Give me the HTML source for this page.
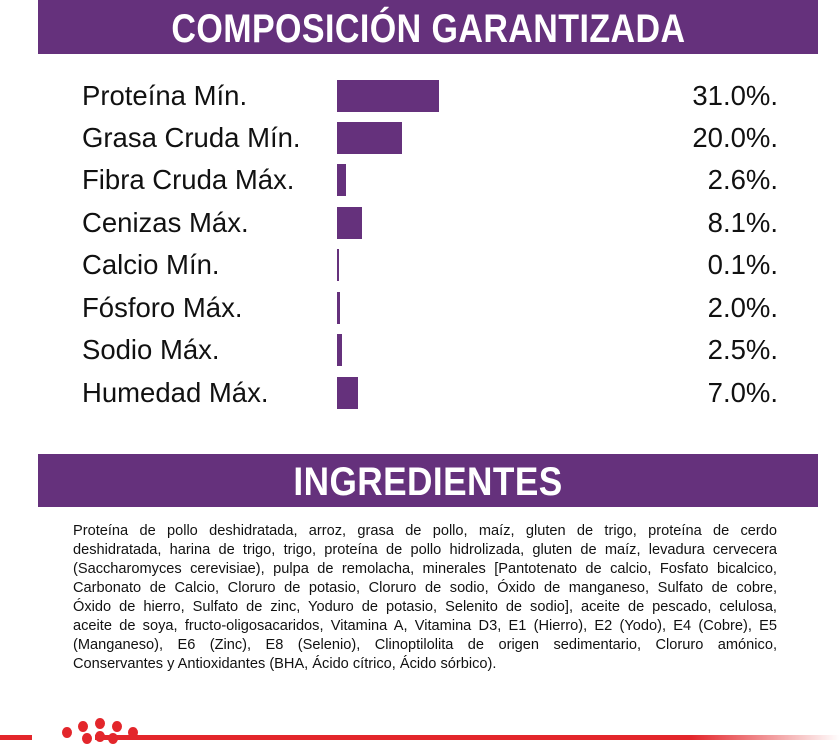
<!DOCTYPE html>
<html><head><meta charset="utf-8"><style>
body{margin:0;width:840px;height:740px;background:#fff;position:relative;overflow:hidden;font-family:"Liberation Sans",sans-serif}
.bar{position:absolute;left:38px;width:780px;background:#65317c;color:#fff;text-align:center;font-family:"Liberation Sans",sans-serif;font-weight:bold;font-size:40px;letter-spacing:0.5px}
.bar span{display:inline-block;transform:scaleX(0.85);transform-origin:center}
.row{position:absolute;left:0;width:840px;height:32px}
.lab{position:absolute;left:82px;font-size:27.5px;line-height:32px;color:#111}
.val{position:absolute;right:62px;font-size:27.5px;line-height:32px;color:#111}
.b{position:absolute;left:337px;top:0;height:32px;background:#65317c}
.ing{position:absolute;left:73px;top:522px;width:704px;font-size:14.6px;line-height:19px;color:#111}
.ing div{text-align:justify;text-align-last:justify;white-space:nowrap;height:19px}
.ing div.l{text-align-last:left}
.dot{position:absolute;width:10px;height:11px;border-radius:50%;background:#e3262b}
</style></head><body>
<div class="bar" style="top:0;height:54px;line-height:58px"><span>COMPOSICIÓN GARANTIZADA</span></div>

<div class="row" style="top:80px"><span class="lab">Proteína Mín.</span><div class="b" style="width:102px"></div><span class="val">31.0%.</span></div>
<div class="row" style="top:122px"><span class="lab">Grasa Cruda Mín.</span><div class="b" style="width:65px"></div><span class="val">20.0%.</span></div>
<div class="row" style="top:164px"><span class="lab">Fibra Cruda Máx.</span><div class="b" style="width:9px"></div><span class="val">2.6%.</span></div>
<div class="row" style="top:207px"><span class="lab">Cenizas Máx.</span><div class="b" style="width:25px"></div><span class="val">8.1%.</span></div>
<div class="row" style="top:249px"><span class="lab">Calcio Mín.</span><div class="b" style="width:2px"></div><span class="val">0.1%.</span></div>
<div class="row" style="top:292px"><span class="lab">Fósforo Máx.</span><div class="b" style="width:3px"></div><span class="val">2.0%.</span></div>
<div class="row" style="top:334px"><span class="lab">Sodio Máx.</span><div class="b" style="width:5px"></div><span class="val">2.5%.</span></div>
<div class="row" style="top:377px"><span class="lab">Humedad Máx.</span><div class="b" style="width:21px"></div><span class="val">7.0%.</span></div>

<div class="bar" style="top:454px;height:53px;line-height:56px"><span style="transform:scaleX(0.88)">INGREDIENTES</span></div>

<div class="ing">
<div>Proteína de pollo deshidratada, arroz, grasa de pollo, maíz, gluten de trigo, proteína de cerdo</div>
<div>deshidratada, harina de trigo, trigo, proteína de pollo hidrolizada, gluten de maíz, levadura cervecera</div>
<div>(Saccharomyces cerevisiae), pulpa de remolacha, minerales [Pantotenato de calcio, Fosfato bicalcico,</div>
<div>Carbonato de Calcio, Cloruro de potasio, Cloruro de sodio, Óxido de manganeso, Sulfato de cobre,</div>
<div>Óxido de hierro, Sulfato de zinc, Yoduro de potasio, Selenito de sodio], aceite de pescado, celulosa,</div>
<div>aceite de soya, fructo-oligosacaridos, Vitamina A, Vitamina D3, E1 (Hierro), E2 (Yodo), E4 (Cobre), E5</div>
<div>(Manganeso), E6 (Zinc), E8 (Selenio), Clinoptilolita de origen sedimentario, Cloruro amónico,</div>
<div class="l">Conservantes y Antioxidantes (BHA, Ácido cítrico, Ácido sórbico).</div>
</div>

<div style="position:absolute;left:0;top:735px;width:32px;height:5px;background:#e3262b"></div>
<div style="position:absolute;left:95px;top:735px;width:745px;height:5px;background:linear-gradient(to right,#e3262b 0%,#e3262b 80%,#fff 100%)"></div>
<div class="dot" style="left:62px;top:727px"></div>
<div class="dot" style="left:78px;top:721px"></div>
<div class="dot" style="left:95px;top:718px"></div>
<div class="dot" style="left:112px;top:721px"></div>
<div class="dot" style="left:128px;top:727px"></div>
<div class="dot" style="left:82px;top:733px"></div>
<div class="dot" style="left:95px;top:731px"></div>
<div class="dot" style="left:108px;top:733px"></div>
</body></html>
